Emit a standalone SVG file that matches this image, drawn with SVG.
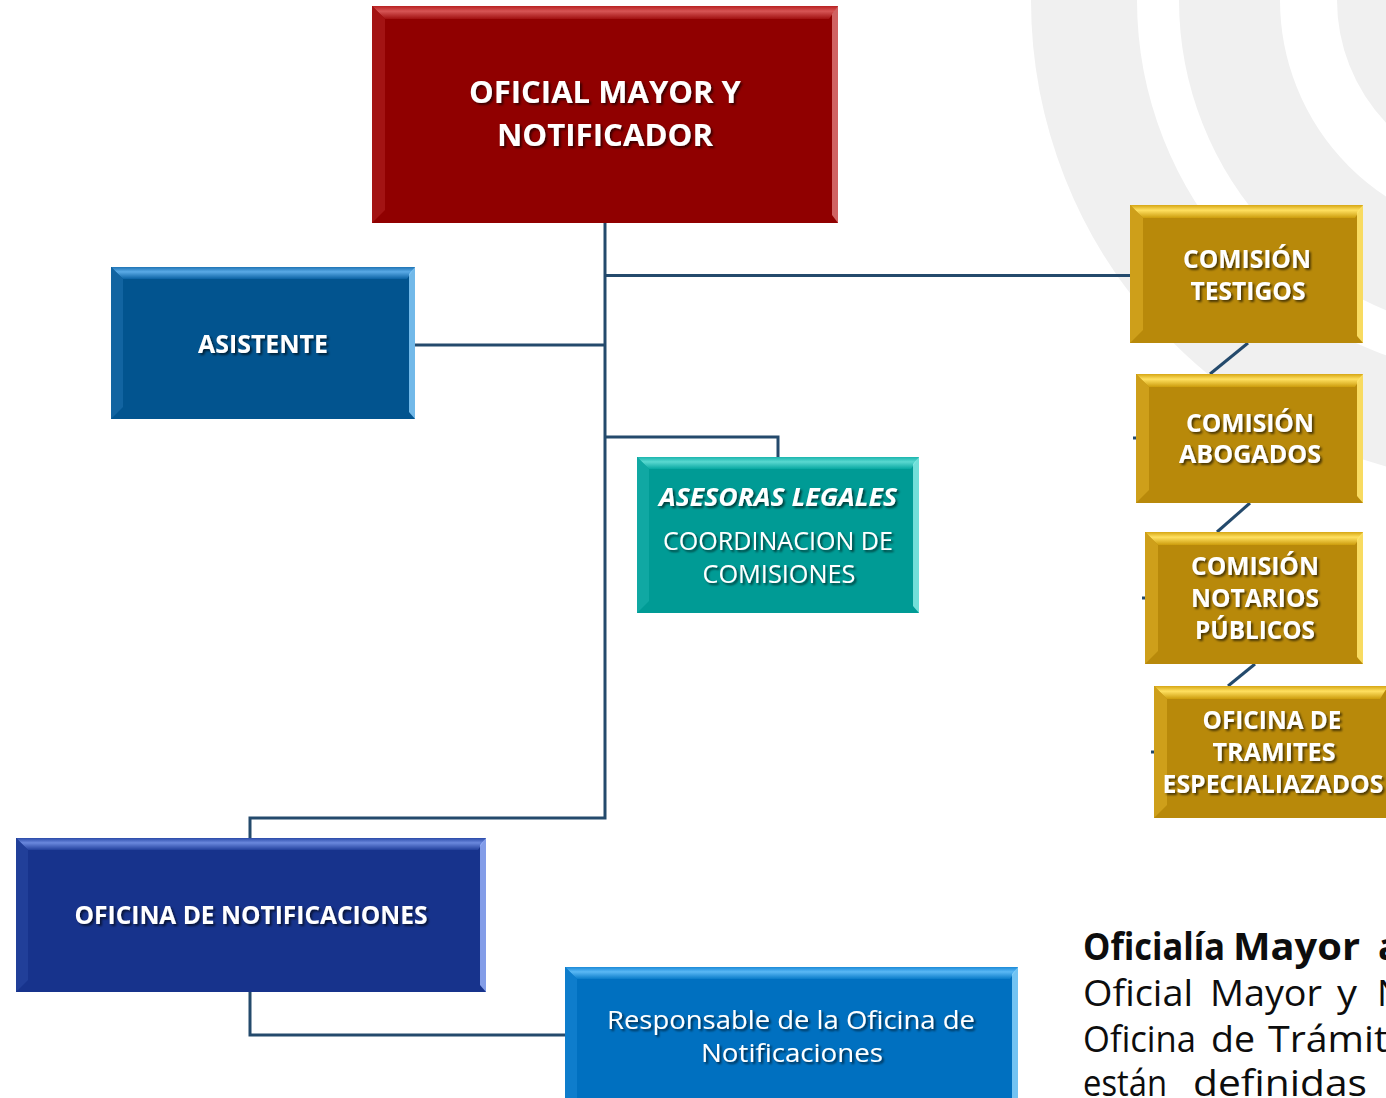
<svg xmlns="http://www.w3.org/2000/svg" width="1386" height="1098" viewBox="0 0 1386 1098">
<defs>
<style>
.lbl{font-family:"Open Sans","Noto Sans",sans-serif;fill:#ffffff;text-anchor:middle;filter:url(#ts)}
.b{font-weight:700}
.r{font-weight:400}
.it{font-style:italic}
.conn{stroke:#244a6c;stroke-width:3;fill:none}
.para{font-family:"Open Sans","Noto Sans",sans-serif;font-size:37px;fill:#0d0d0d}
.arc{fill:none;stroke:#f0f0f0}
</style>
<filter id="ts" x="-10%" y="-30%" width="120%" height="160%">
<feDropShadow dx="2" dy="2" stdDeviation="1.3" flood-color="#000" flood-opacity="0.6"/>
</filter>
<linearGradient id="gRed" x1="0" y1="0" x2="0" y2="1"><stop offset="0" stop-color="#b82020"/><stop offset="0.4" stop-color="#d65555"/><stop offset="1" stop-color="#a01010"/></linearGradient>
<linearGradient id="gAsi" x1="0" y1="0" x2="0" y2="1"><stop offset="0" stop-color="#1f74b5"/><stop offset="0.4" stop-color="#5aaae6"/><stop offset="1" stop-color="#0b62a3"/></linearGradient>
<linearGradient id="gTeal" x1="0" y1="0" x2="0" y2="1"><stop offset="0" stop-color="#1ab5ae"/><stop offset="0.4" stop-color="#5ad8d0"/><stop offset="1" stop-color="#08a8a1"/></linearGradient>
<linearGradient id="gGold" x1="0" y1="0" x2="0" y2="1"><stop offset="0" stop-color="#d6a614"/><stop offset="0.4" stop-color="#ffe060"/><stop offset="1" stop-color="#cc9c0c"/></linearGradient>
<linearGradient id="gNavy" x1="0" y1="0" x2="0" y2="1"><stop offset="0" stop-color="#2b4aa8"/><stop offset="0.4" stop-color="#6a88dd"/><stop offset="1" stop-color="#22409c"/></linearGradient>
<linearGradient id="gResp" x1="0" y1="0" x2="0" y2="1"><stop offset="0" stop-color="#1b8ad8"/><stop offset="0.4" stop-color="#5ab8f5"/><stop offset="1" stop-color="#0a7cc9"/></linearGradient>
</defs>

<rect x="0" y="0" width="1386" height="1098" fill="#ffffff"/>
<g id="background-arcs">
<circle class="arc" cx="1515" cy="0" r="431" stroke-width="106"/>
<circle class="arc" cx="1515" cy="0" r="285.5" stroke-width="101"/>
<circle class="arc" cx="1515" cy="0" r="130" stroke-width="96"/>
</g>

<g id="connectors">
<line class="conn" x1="605" y1="222" x2="605" y2="437" stroke-width="4"/>
<polyline class="conn" points="605,437 605,818 250,818 250,838"/>
<line class="conn" x1="605" y1="275.5" x2="1130" y2="275.5"/>
<line class="conn" x1="415" y1="345" x2="605" y2="345"/>
<polyline class="conn" points="605,437 778,437 778,457"/>
<polyline class="conn" points="250,992 250,1035 565,1035"/>
<line class="conn" x1="1248" y1="343" x2="1210" y2="374" stroke-width="2.5"/>
<line class="conn" x1="1250" y1="503" x2="1217" y2="532" stroke-width="2.5"/>
<line class="conn" x1="1255" y1="664" x2="1228" y2="686" stroke-width="2.5"/>
<line class="conn" x1="1133" y1="438" x2="1136" y2="438" stroke-width="2" stroke="#7a8ca0"/>
<line class="conn" x1="1142" y1="598" x2="1145" y2="598" stroke-width="2" stroke="#7a8ca0"/>
<line class="conn" x1="1151" y1="752" x2="1154" y2="752" stroke-width="2" stroke="#7a8ca0"/>
</g>

<g id="oficial-mayor">
<rect x="372" y="6" width="466" height="217" fill="#900000"/>
<polygon points="372,6 838,6 829,19 385,19" fill="url(#gRed)"/>
<polygon points="372,6 385,19 385,210 372,223" fill="#a51515" opacity="0.9"/>
<polygon points="838,6 838,223 832,215 832,14" fill="#e07a7a" opacity="0.8"/>
<text class="lbl b" font-size="30" x="605" y="103" textLength="272" lengthAdjust="spacingAndGlyphs">OFICIAL MAYOR Y</text>
<text class="lbl b" font-size="30" x="605" y="146" textLength="216" lengthAdjust="spacingAndGlyphs">NOTIFICADOR</text>
</g>

<g id="asistente">
<rect x="111" y="267" width="304" height="152" fill="#02548f"/>
<polygon points="111,267 415,267 407,279 123,279" fill="url(#gAsi)"/>
<polygon points="111,267 123,279 123,407 111,419" fill="#1466a3" opacity="0.9"/>
<polygon points="415,267 415,419 409,412 409,274" fill="#8fd2ff" opacity="0.8"/>
<text class="lbl b" font-size="25" x="263" y="353" textLength="130" lengthAdjust="spacingAndGlyphs">ASISTENTE</text>
</g>

<g id="asesoras-legales">
<rect x="637" y="457" width="282" height="156" fill="#009b95"/>
<polygon points="637,457 919,457 911,469 649,469" fill="url(#gTeal)"/>
<polygon points="637,457 649,469 649,601 637,613" fill="#12aaa4" opacity="0.9"/>
<polygon points="919,457 919,613 913,606 913,464" fill="#8ff0ea" opacity="0.8"/>
<text class="lbl b it" font-size="25" x="778" y="506" textLength="238" lengthAdjust="spacingAndGlyphs">ASESORAS LEGALES</text>
<text class="lbl r" font-size="25" x="778" y="550" textLength="230" lengthAdjust="spacingAndGlyphs">COORDINACION DE</text>
<text class="lbl r" font-size="25" x="779" y="583" textLength="153" lengthAdjust="spacingAndGlyphs">COMISIONES</text>
</g>

<g id="comision-testigos">
<rect x="1130" y="205" width="233" height="138" fill="#b8890a"/>
<polygon points="1130,205 1363,205 1355,218 1143,218" fill="url(#gGold)"/>
<polygon points="1130,205 1143,218 1143,330 1130,343" fill="#d0a21c" opacity="0.9"/>
<polygon points="1363,205 1363,343 1357,336 1357,212" fill="#ffe46a" opacity="0.9"/>
<text class="lbl b" font-size="25" x="1247" y="268" textLength="128" lengthAdjust="spacingAndGlyphs">COMISIÓN</text>
<text class="lbl b" font-size="25" x="1248" y="300" textLength="115" lengthAdjust="spacingAndGlyphs">TESTIGOS</text>
</g>

<g id="comision-abogados">
<rect x="1136" y="374" width="227" height="129" fill="#b8890a"/>
<polygon points="1136,374 1363,374 1355,387 1149,387" fill="url(#gGold)"/>
<polygon points="1136,374 1149,387 1149,490 1136,503" fill="#d0a21c" opacity="0.9"/>
<polygon points="1363,374 1363,503 1357,496 1357,381" fill="#ffe46a" opacity="0.9"/>
<text class="lbl b" font-size="25" x="1250" y="432" textLength="128" lengthAdjust="spacingAndGlyphs">COMISIÓN</text>
<text class="lbl b" font-size="25" x="1250" y="463" textLength="142" lengthAdjust="spacingAndGlyphs">ABOGADOS</text>
</g>

<g id="comision-notarios">
<rect x="1145" y="532" width="218" height="132" fill="#b8890a"/>
<polygon points="1145,532 1363,532 1355,545 1158,545" fill="url(#gGold)"/>
<polygon points="1145,532 1158,545 1158,651 1145,664" fill="#d0a21c" opacity="0.9"/>
<polygon points="1363,532 1363,664 1357,657 1357,539" fill="#ffe46a" opacity="0.9"/>
<text class="lbl b" font-size="25" x="1255" y="575" textLength="128" lengthAdjust="spacingAndGlyphs">COMISIÓN</text>
<text class="lbl b" font-size="25" x="1255" y="607" textLength="128" lengthAdjust="spacingAndGlyphs">NOTARIOS</text>
<text class="lbl b" font-size="25" x="1255" y="639" textLength="120" lengthAdjust="spacingAndGlyphs">PÚBLICOS</text>
</g>

<g id="oficina-tramites">
<rect x="1154" y="686" width="234" height="132" fill="#b8890a"/>
<polygon points="1154,686 1388,686 1380,699 1167,699" fill="url(#gGold)"/>
<polygon points="1154,686 1167,699 1167,805 1154,818" fill="#d0a21c" opacity="0.9"/>
<text class="lbl b" font-size="25" x="1272" y="729" textLength="139" lengthAdjust="spacingAndGlyphs">OFICINA DE</text>
<text class="lbl b" font-size="25" x="1274" y="761" textLength="123" lengthAdjust="spacingAndGlyphs">TRAMITES</text>
<text class="lbl b" font-size="25" x="1273" y="793" textLength="221" lengthAdjust="spacingAndGlyphs">ESPECIALIAZADOS</text>
</g>

<g id="oficina-notificaciones">
<rect x="16" y="838" width="470" height="154" fill="#17338c"/>
<polygon points="16,838 486,838 478,850 28,850" fill="url(#gNavy)"/>
<polygon points="16,838 28,850 28,980 16,992" fill="#22409a" opacity="0.9"/>
<polygon points="486,838 486,992 480,985 480,845" fill="#9fb8ff" opacity="0.8"/>
<text class="lbl b" font-size="25" x="251" y="924" textLength="353" lengthAdjust="spacingAndGlyphs">OFICINA DE NOTIFICACIONES</text>
</g>

<g id="responsable">
<rect x="565" y="967" width="453" height="140" fill="#0070c0"/>
<polygon points="565,967 1018,967 1010,979 577,979" fill="url(#gResp)"/>
<polygon points="565,967 577,979 577,1107 565,1107" fill="#0f7ecd" opacity="0.9"/>
<polygon points="1018,967 1018,1107 1012,1107 1012,974" fill="#8fd8ff" opacity="0.8"/>
<text class="lbl r" font-size="26" x="791" y="1029" textLength="368" lengthAdjust="spacingAndGlyphs">Responsable de la Oficina de</text>
<text class="lbl r" font-size="26" x="792" y="1062" textLength="182" lengthAdjust="spacingAndGlyphs">Notificaciones</text>
</g>

<g id="paragraph">
<text class="para" font-weight="700" x="1083" y="960" textLength="142" lengthAdjust="spacingAndGlyphs">Oficialía</text>
<text class="para" font-weight="700" x="1233" y="960" textLength="127" lengthAdjust="spacingAndGlyphs">Mayor</text>
<text class="para" font-weight="700" x="1378" y="960">a</text>
<text class="para" x="1083" y="1006" textLength="110" lengthAdjust="spacingAndGlyphs">Oficial</text>
<text class="para" x="1210" y="1006" textLength="112" lengthAdjust="spacingAndGlyphs">Mayor</text>
<text class="para" x="1337" y="1006" textLength="20" lengthAdjust="spacingAndGlyphs">y</text>
<text class="para" x="1377" y="1006">N</text>
<text class="para" x="1083" y="1052" textLength="113" lengthAdjust="spacingAndGlyphs">Oficina</text>
<text class="para" x="1211" y="1052" textLength="44" lengthAdjust="spacingAndGlyphs">de</text>
<text class="para" x="1268" y="1052" textLength="120" lengthAdjust="spacingAndGlyphs">Trámit</text>
<text class="para" x="1083" y="1096" textLength="84" lengthAdjust="spacingAndGlyphs">están</text>
<text class="para" x="1193" y="1096" textLength="174" lengthAdjust="spacingAndGlyphs">definidas</text>
</g>
</svg>
